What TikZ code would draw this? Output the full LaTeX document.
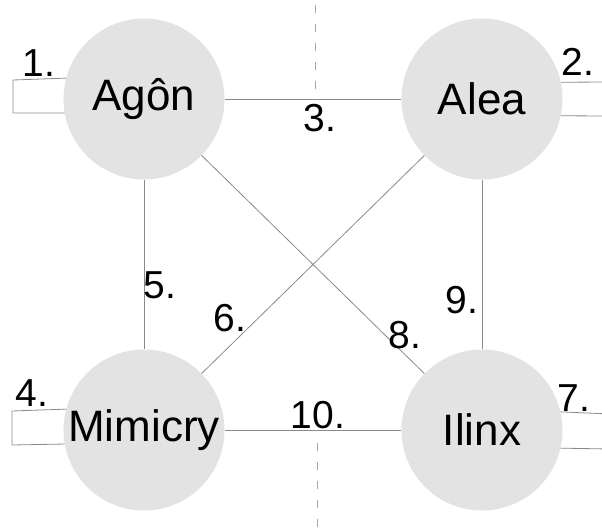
\documentclass[tikz,border=0pt]{standalone}
\usepackage{fontspec}
\setmainfont{Liberation Sans}
\begin{document}
\begin{tikzpicture}[x=1pt,y=-1pt,
  game/.style={circle,fill=circfill,draw=none,minimum size=161pt,inner sep=0pt,font=\fontsize{44}{50}\selectfont},
  lbl/.style={inner sep=0pt,font=\fontsize{39}{44}\selectfont},
  link/.style={draw=linkgray,line width=0.8pt},
  axis/.style={draw=gray!70,line width=0.8pt,dash pattern=on 8pt off 11pt}]
\definecolor{circfill}{HTML}{E3E3E3}
\definecolor{linkgray}{HTML}{8A8A8A}
\useasboundingbox (0,0) rectangle (602,531);
\clip (0,0) rectangle (602,531);
% dashed axis
\coordinate (axt) at (315,5);
\coordinate (axtb) at (315,95);
\coordinate (axbt) at (317,443);
\coordinate (axb) at (317,531);
\draw[axis] (axt) -- (axtb);
\draw[axis] (axbt) -- (axb);
% circles
\node[game] (agon) at (144,99) {Agôn};
\node[game] (alea) at (482,99) {Alea};
\node[game] (mim) at (144,430) {Mimicry};
\node[game] (ilinx) at (482,430) {Ilinx};
% links
\draw[link] (agon) -- (alea);
\draw[link] (mim) -- (ilinx);
\draw[link] (agon) -- (mim);
\draw[link] (alea) -- (ilinx);
\draw[link] (agon) -- (ilinx);
\draw[link] (alea) -- (mim);
% loops
\draw[link] (agon.165) -- (13,80) -- (13,113) -- (agon.190);
\draw[link] (mim.165) -- (12,411) -- (12,445) -- (mim.190);
\coordinate (r1) at (610,82);
\coordinate (r2) at (610,116);
\coordinate (r3) at (610,414);
\coordinate (r4) at (610,449);
\draw[link] (alea.12) -- (r1);
\draw[link] (alea.-12) -- (r2);
\draw[link] (ilinx.13) -- (r3);
\draw[link] (ilinx.-13) -- (r4);
% labels
\node[lbl] (l1) at (39,63) {1.};
\node[lbl] (l2) at (578,62) {2.};
\node[lbl] (l3) at (320,118) {3.};
\node[lbl] (l4) at (32,393) {4.};
\node[lbl] (l5) at (160,285) {5.};
\node[lbl] (l6) at (230,318) {6.};
\node[lbl] (l7) at (574,398) {7.};
\node[lbl] (l8) at (405,335) {8.};
\node[lbl] (l9) at (462,300) {9.};
\node[lbl] (l10) at (318,415) {10.};
\end{tikzpicture}
\end{document}
